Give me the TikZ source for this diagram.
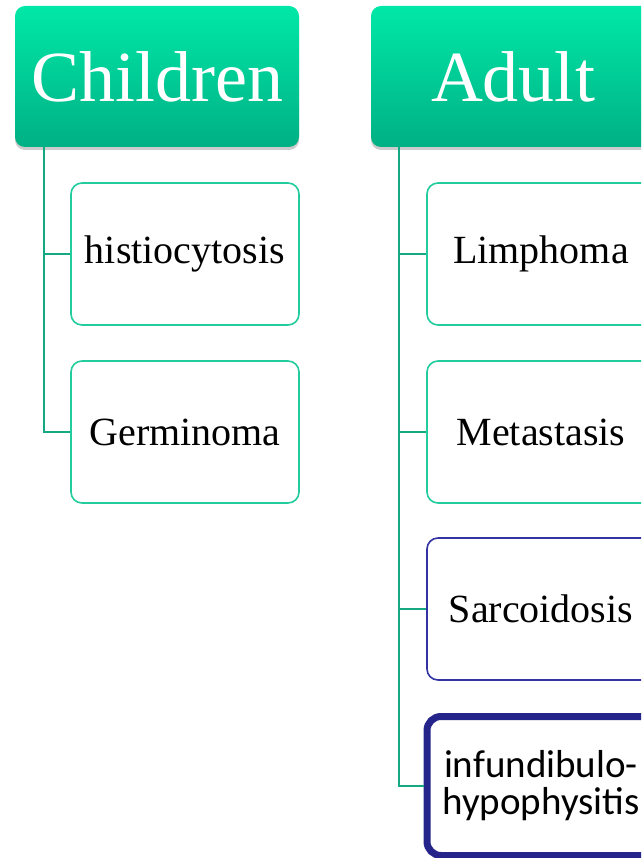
\documentclass[tikz,border=0pt]{standalone}
\usepackage{fontspec}
\setmainfont{Liberation Serif}
\newfontfamily\calibfont{Carlito}
\usetikzlibrary{shadows}
\usetikzlibrary{positioning}

\definecolor{hdrtop}{HTML}{00E8A8}
\definecolor{hdrbot}{HTML}{00B084}
\definecolor{linkgreen}{HTML}{14A982}
\definecolor{boxgreen}{HTML}{22CC9C}
\definecolor{boxblue}{HTML}{3333A3}
\definecolor{boxnavy}{HTML}{24248B}

\begin{document}
\begin{tikzpicture}[
    x=1pt, y=-1pt,
    header/.style={rectangle, rounded corners=10pt, minimum width=284pt, minimum height=141pt,
        inner sep=0pt, top color=hdrtop, bottom color=hdrbot, text=white,
        font=\fontsize{72}{80}\selectfont,
        drop shadow={shadow xshift=0pt, shadow yshift=-3pt, opacity=0.2, fill=black}},
    item/.style={rectangle, rounded corners=11pt, draw=boxgreen, line width=1.6pt, fill=white,
        minimum width=228pt, minimum height=142pt, inner sep=0pt,
        font=\fontsize{40}{46}\selectfont},
    itemblue/.style={item, draw=boxblue},
    itemnavy/.style={item, draw=boxnavy, line width=7pt, rounded corners=14pt,
        minimum height=139pt, align=center, font=\calibfont\fontsize{39}{37}\selectfont},
    link/.style={draw=linkgreen, line width=1.8pt}
]

\useasboundingbox (0,0) rectangle (641,858);
\clip (0,0) rectangle (641,858);

% --- Headers ---
\node[header] (children) at (157,76.5) {Children};
\node[header] (adult) at (513,76.5) {Adult};

% --- Children column ---
\node[item] (histio) at (185,254) {histiocytosis};
\node[item] (germ) at (185,432) {Germinoma};

% --- Adult column ---
\node[item] (limph) at (541,254) {Limphoma};
\node[item] (meta) at (541,432) {Metastasis};
\node[itemblue] (sarc) at (541,609) {Sarcoidosis};
\node[itemnavy] (infund) at (541,786) {infundibulo-\\hypophysitis};

% --- Connectors ---
\foreach \n in {histio,germ}
    \draw[link] ([xshift=29pt]children.south west) |- (\n.west);

\foreach \n in {limph,meta,sarc,infund}
    \draw[link] ([xshift=28pt]adult.south west) |- (\n.west);

\end{tikzpicture}
\end{document}
